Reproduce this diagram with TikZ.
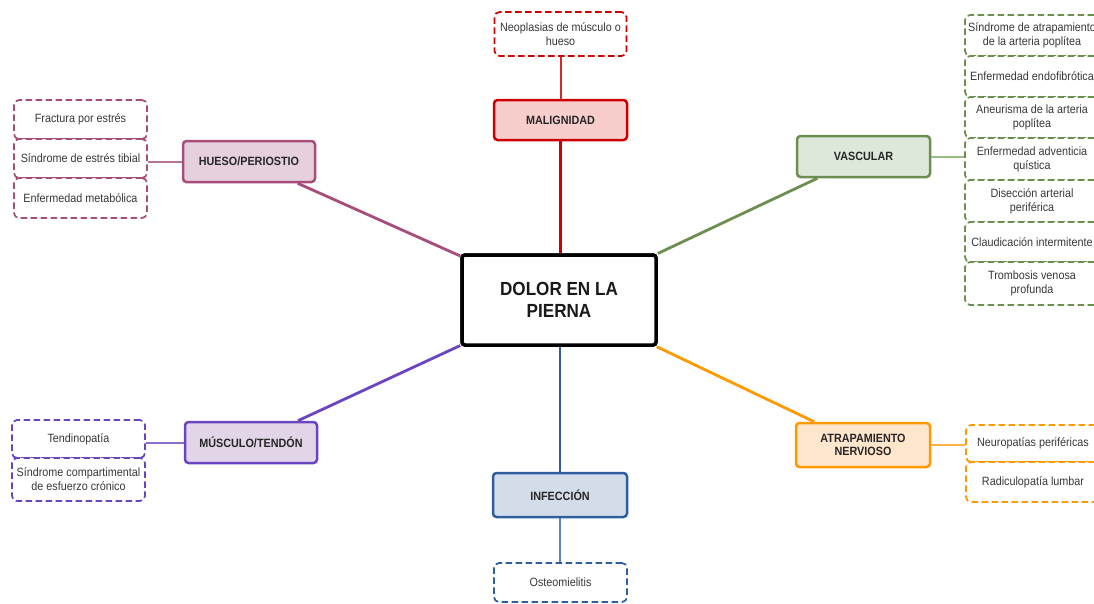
\documentclass[tikz,border=0pt]{standalone}
\usepackage{fontspec}
\setmainfont{Liberation Sans}[FakeStretch=0.9]
\definecolor{redS}{HTML}{CC0000}\definecolor{redF}{HTML}{F8CECC}\definecolor{redL}{HTML}{D42A2A}
\definecolor{magS}{HTML}{A64D79}\definecolor{magF}{HTML}{E6D0DE}\definecolor{magL}{HTML}{B87498}
\definecolor{grnS}{HTML}{6B8F4E}\definecolor{grnF}{HTML}{DEE8DA}\definecolor{grnL}{HTML}{97BB82}
\definecolor{purS}{HTML}{6A45C2}\definecolor{purF}{HTML}{E1D5E7}\definecolor{purL}{HTML}{8C6DD0}
\definecolor{orgS}{HTML}{FF9900}\definecolor{orgF}{HTML}{FFE6CC}\definecolor{orgL}{HTML}{FFB347}
\definecolor{bluS}{HTML}{2F5E9E}\definecolor{bluF}{HTML}{D3DDE9}\definecolor{bluL}{HTML}{5A84BC}
\begin{document}
\begin{tikzpicture}[x=1pt,y=-1pt,
  hub/.style={draw=black, line width=3.5pt, rounded corners=3pt, fill=white,
    minimum width=194pt, minimum height=90pt, inner sep=0pt, align=center,
    font=\fontsize{19}{22.5}\selectfont\bfseries, text=black!90},
  cat/.style={draw, line width=2.5pt, rounded corners=3.5pt, inner sep=0pt,
    align=center, font=\fontsize{12}{13.5}\selectfont\bfseries, text=black!85},
  leaf/.style={draw, dash pattern=on 6.5pt off 3.5pt, line width=1.7pt,
    rounded corners=5pt, fill=white, inner sep=0pt, align=center,
    font=\fontsize{12}{14}\selectfont, text=black!78},
  spoke/.style={line width=2.8pt},
  twig/.style={line width=2pt}]
\useasboundingbox (0,0) rectangle (1094,603);
\clip (0,0) rectangle (1094,603);

% central topic
\node[hub] (core) at (559,300) {DOLOR EN LA\\PIERNA};

% categories
\node[cat, draw=redS, fill=redF, minimum width=133pt, minimum height=40pt] (mal) at (560.5,120) {MALIGNIDAD};
\node[cat, draw=magS, fill=magF, minimum width=132pt, minimum height=41pt] (hue) at (249,161.5) {HUESO/PERIOSTIO};
\node[cat, draw=grnS, fill=grnF, minimum width=133pt, minimum height=41pt] (vas) at (863.5,156.5) {VASCULAR};
\node[cat, draw=purS, fill=purF, minimum width=132pt, minimum height=41pt] (mus) at (251,442.5) {MÚSCULO/TENDÓN};
\node[cat, draw=orgS, fill=orgF, minimum width=134pt, minimum height=44pt] (atr) at (863,445) {ATRAPAMIENTO\\NERVIOSO};
\node[cat, draw=bluS, fill=bluF, minimum width=134pt, minimum height=44pt] (inf) at (560,495) {INFECCIÓN};

% spokes from the centre
\draw[spoke, redS] (mal.south) -- (mal.south |- core.north);
\draw[spoke, magS] (hue) -- (core);
\draw[spoke, grnS] (vas) -- (core);
\draw[spoke, purS] (mus) -- (core);
\draw[spoke, orgS] (atr) -- (core);
\draw[spoke, bluS] (inf.north) -- (inf.north |- core.south);
% redraw the centre on top of the spoke ends
\node[hub] at (core) {DOLOR EN LA\\PIERNA};

% malignidad
\node[leaf, draw=redS, minimum width=132pt, minimum height=44pt] (neo) at (560.5,34) {Neoplasias de músculo o\\hueso};
\draw[twig, redL] (mal.north) -- (mal.north |- neo.south);

% hueso / periostio
\node[leaf, draw=magS, minimum width=133pt, minimum height=39pt] (fra) at (80.5,119.5) {Fractura por estrés};
\node[leaf, draw=magS, minimum width=133pt, minimum height=39pt] (sdt) at (80.5,158.5) {Síndrome de estrés tibial};
\node[leaf, draw=magS, minimum width=133pt, minimum height=40pt] (met) at (80.5,198) {Enfermedad metabólica};
\draw[twig, magL] (hue.west) -- (hue.west -| sdt.east);

% vascular
\node[leaf, draw=grnS, minimum width=134pt, minimum height=41pt] (v1) at (1032,35.5) {Síndrome de atrapamiento\\de la arteria poplítea};
\node[leaf, draw=grnS, minimum width=134pt, minimum height=41pt] (v2) at (1032,76.5) {Enfermedad endofibrótica};
\node[leaf, draw=grnS, minimum width=134pt, minimum height=41pt] (v3) at (1032,117.5) {Aneurisma de la arteria\\poplítea};
\node[leaf, draw=grnS, minimum width=134pt, minimum height=42pt] (v4) at (1032,159) {Enfermedad adventicia\\quística};
\node[leaf, draw=grnS, minimum width=134pt, minimum height=42pt] (v5) at (1032,201) {Disección arterial\\periférica};
\node[leaf, draw=grnS, minimum width=134pt, minimum height=40pt] (v6) at (1032,242) {Claudicación intermitente};
\node[leaf, draw=grnS, minimum width=134pt, minimum height=43pt] (v7) at (1032,283.5) {Trombosis venosa\\profunda};
\draw[twig, grnL] (vas.east) -- (vas.east -| v4.west);

% músculo / tendón
\node[leaf, draw=purS, minimum width=133pt, minimum height=38pt] (ten) at (78.5,439) {Tendinopatía};
\node[leaf, draw=purS, minimum width=133pt, minimum height=43pt] (scc) at (78.5,479.5) {Síndrome compartimental\\de esfuerzo crónico};
\draw[twig, purL] (mus.west) -- (mus.west -| ten.east);

% atrapamiento nervioso
\node[leaf, draw=orgS, minimum width=134pt, minimum height=37pt] (neu) at (1033,443.5) {Neuropatías periféricas};
\node[leaf, draw=orgS, minimum width=134pt, minimum height=40pt] (rad) at (1033,482) {Radiculopatía lumbar};
\draw[twig, orgL] (atr.east) -- (atr.east -| neu.west);

% infección
\node[leaf, draw=bluS, minimum width=133pt, minimum height=39pt] (ost) at (560.5,582.5) {Osteomielitis};
\draw[twig, bluL] (inf.south) -- (inf.south |- ost.north);
\end{tikzpicture}
\end{document}
